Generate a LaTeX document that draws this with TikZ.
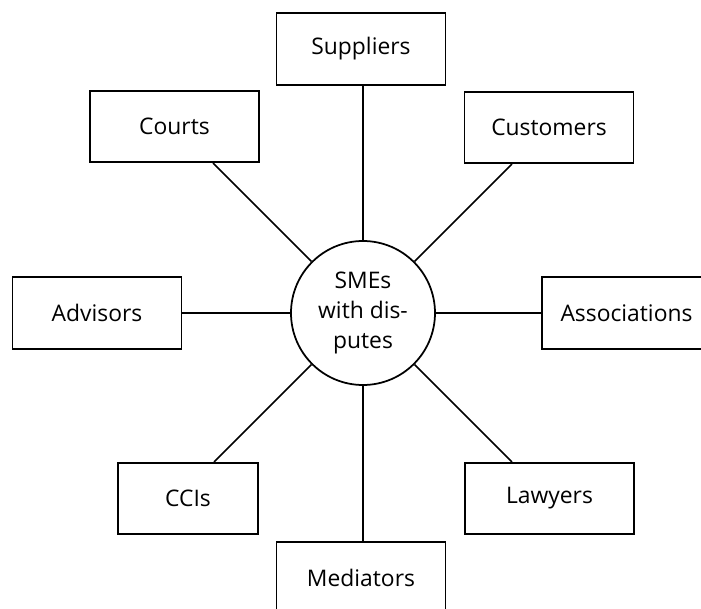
\documentclass[tikz,border=0pt]{standalone}
\usepackage{fontspec}
\setmainfont{Open Sans}

\tikzset{
	party/.style={draw, line width=1pt, minimum width=3.38cm, minimum height=1.43cm,
		inner sep=0pt, font=\fontsize{13}{15}\selectfont},
	hubnode/.style={draw, circle, line width=1pt, minimum size=2.88cm, inner sep=0pt,
		align=center, font=\fontsize{13}{17}\selectfont},
	link/.style={line width=1pt}
}

\begin{document}
\begin{tikzpicture}
		\useasboundingbox (-7.26,-5.92) rectangle (6.76,6.26);
		\clip (-7.26,-5.92) rectangle (6.76,6.26);
		
		% SMEs in the middle
		\node[hubnode] (smes) at (0,0) {SMEs\\with dis-\\putes};
		
		% parties round it
		\node[party] (suppliers) at (-0.04,5.28) {Suppliers};
		\node[party] (courts) at (-3.77,3.73) {Courts};
		\node[party] (customers) at (3.72,3.71) {Customers};
		\node[party] (advisors) at (-5.32,0) {Advisors};
		\node[party] (associations) at (5.27,0) {Associations};
		\node[party, minimum width=2.8cm] (ccis) at (-3.5,-3.71) {CCIs};
		\node[party] (lawyers) at (3.73,-3.71) {Lawyers};
		\node[party] (mediators) at (-0.04,-5.3) {Mediators};
		
		% straight links
		\draw[link] (smes) -- (smes |- suppliers.south);
		\draw[link] (smes) -- (smes |- mediators.north);
		\draw[link] (smes) -- (smes -| advisors.east);
		\draw[link] (smes) -- (smes -| associations.west);
		
		% slanted links, at 45 degrees
		\draw[link] (smes.135) -- (intersection of smes--smes.135 and courts.south west--courts.south east);
		\draw[link] (smes.45) -- (intersection of smes--smes.45 and customers.south west--customers.south east);
		\draw[link] (smes.225) -- (intersection of smes--smes.225 and ccis.north west--ccis.north east);
		\draw[link] (smes.-45) -- (intersection of smes--smes.-45 and lawyers.north west--lawyers.north east);
		
\end{tikzpicture}
\end{document}
